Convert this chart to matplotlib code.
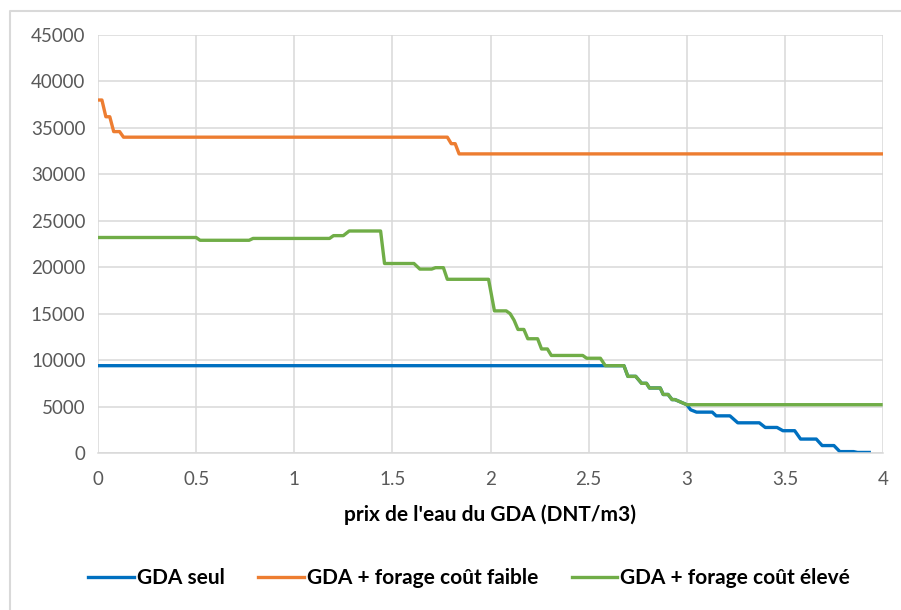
import matplotlib.pyplot as plt
from matplotlib.lines import Line2D

# ---------------- Data ----------------
x_seul = [0, 2.57, 2.585, 2.68, 2.70, 2.74, 2.77, 2.795, 2.81, 2.865, 2.88, 2.905, 2.925,
          2.94, 3.0, 3.02, 3.05, 3.13, 3.15, 3.22, 3.26, 3.37, 3.40, 3.46, 3.49,
          3.55, 3.58, 3.66, 3.69, 3.75, 3.78, 3.85, 3.87, 3.93]
y_seul = [9400, 9400, 9400, 9400, 8250, 8250, 7500, 7500, 7000, 7000, 6300, 6300, 5750,
          5750, 5200, 4650, 4400, 4400, 4000, 4000, 3250, 3250, 2750, 2750, 2400,
          2400, 1500, 1500, 800, 800, 150, 150, 60, 60]

x_faible = [0, 0.02, 0.04, 0.06, 0.08, 0.11, 0.13, 1.78, 1.80, 1.82, 1.84, 4.0]
y_faible = [38000, 38000, 36200, 36200, 34600, 34600, 34000, 34000, 33300, 33300, 32200, 32200]

x_eleve = [0, 0.50, 0.52, 0.77, 0.79, 1.18, 1.20, 1.25, 1.28, 1.44, 1.46, 1.61, 1.64,
           1.70, 1.72, 1.76, 1.78, 1.99, 2.02, 2.08, 2.10, 2.12, 2.14, 2.17, 2.19,
           2.24, 2.26, 2.29, 2.31, 2.47, 2.49, 2.56, 2.585, 2.68, 2.70, 2.74, 2.77,
           2.795, 2.81, 2.865, 2.88, 2.905, 2.925, 2.94, 3.0, 3.99]
y_eleve = [23200, 23200, 22900, 22900, 23100, 23100, 23400, 23400, 23900, 23900, 20400, 20400, 19800,
           19800, 19950, 19950, 18700, 18700, 15300, 15300, 15000, 14300, 13300, 13300, 12300,
           12300, 11200, 11200, 10500, 10500, 10200, 10200, 9400, 9400, 8250, 8250, 7500,
           7500, 7000, 7000, 6300, 6300, 5750, 5750, 5200, 5200]

series_labels = ["GDA seul", "GDA + forage coût faible", "GDA + forage coût élevé"]
xticks = [0, 0.5, 1, 1.5, 2, 2.5, 3, 3.5, 4]
xtick_labels = ["0", "0.5", "1", "1.5", "2", "2.5", "3", "3.5", "4"]
yticks = list(range(0, 45001, 5000))

FONT = ["Lato", "DejaVu Sans"]
plt.rcParams["font.family"] = FONT

# ---------------- Figure ----------------
fig = plt.figure(figsize=(9.01, 6.10), dpi=100)
ax = fig.add_axes([98 / 901, 1 - 453 / 610, (883 - 98) / 901, (453 - 35) / 610])

# chart area border (only left/top edges fall inside the crop)
bx, by = 9.5 / 901, 1 - 10.5 / 610
fig.add_artist(Line2D([bx, bx, 1.0], [0.0, by, by], transform=fig.transFigure,
                      color="#d9d9d9", lw=1.5))

ax.plot(x_seul, y_seul, color="#0070C0", lw=2.4, label=series_labels[0], solid_joinstyle="round")
ax.plot(x_faible, y_faible, color="#ED7D31", lw=2.4, label=series_labels[1], solid_joinstyle="round")
ax.plot(x_eleve, y_eleve, color="#70AD47", lw=2.4, label=series_labels[2], solid_joinstyle="round")

ax.set_xlim(0, 4)
ax.set_ylim(0, 45000)
ax.set_xticks(xticks)
ax.set_xticklabels(xtick_labels)
ax.set_yticks(yticks)
ax.set_yticklabels([str(v) for v in yticks])
ax.tick_params(length=0, labelsize=13.5, labelcolor="#595959")
ax.tick_params(axis="x", pad=13)
ax.tick_params(axis="y", pad=9)

ax.grid(True, color="#d9d9d9", lw=1.1)
ax.set_axisbelow(True)
for s in ["top", "right", "left"]:
    ax.spines[s].set_visible(False)
ax.spines["bottom"].set_color("#d9d9d9")
ax.spines["bottom"].set_linewidth(1.1)

ax.set_xlabel("prix de l'eau du GDA (DNT/m3)", fontsize=15, fontweight="bold",
              color="#000000", labelpad=12)

fig.legend(loc="center", bbox_to_anchor=(469 / 901, 1 - 578 / 610), ncol=3,
           frameon=False, prop={"family": FONT, "size": 15, "weight": "bold"},
           handlelength=2.2, handletextpad=0.15, columnspacing=1.6)

fig.savefig("out.png", dpi=100)
